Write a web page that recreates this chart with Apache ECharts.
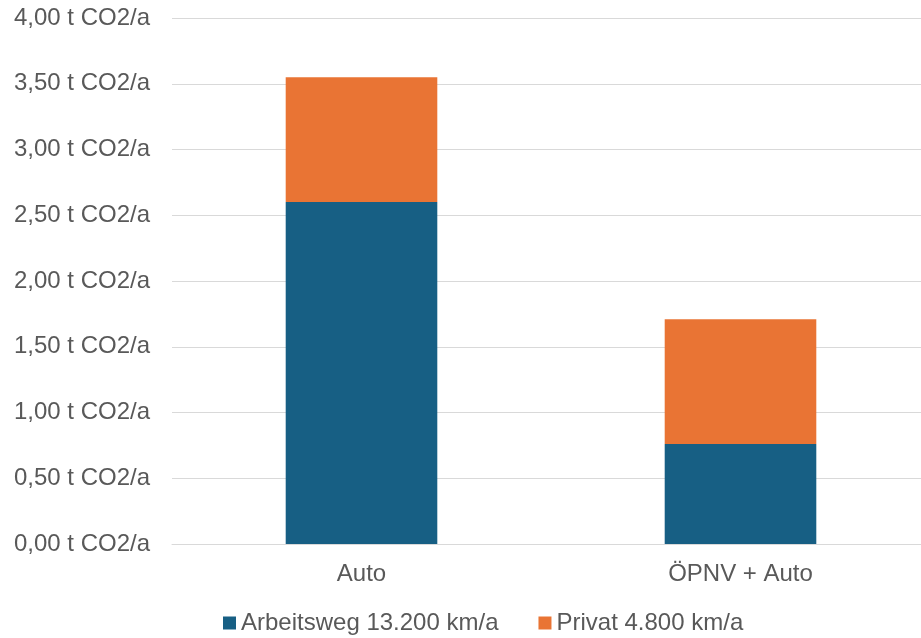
<!DOCTYPE html>
<html>
<head>
<meta charset="utf-8">
<script src="https://cdn.jsdelivr.net/npm/echarts@6/dist/echarts.min.js"></script>
<style>
  html, body { margin: 0; padding: 0; background: #fff; }
  #chart { width: 921px; height: 638px; }
</style>
</head>
<body>
<div id="chart"></div>
<script>
// Kategorien und Werte (t CO2/a)
const categories = ['Auto', 'ÖPNV + Auto'];
const arbeitsweg = [2.60, 0.76];
const privat = [0.95, 0.95];
const seriesNames = ['Arbeitsweg 13.200 km/a', 'Privat 4.800 km/a'];

const chart = echarts.init(document.getElementById('chart'));

const fmt = function (v) {
  return v.toFixed(2).replace('.', ',') + ' t CO2/a';
};

chart.setOption({
  animation: false,
  textStyle: { fontFamily: 'Liberation Sans, Arial, sans-serif' },
  grid: {
    left: 172, right: -9, top: 18, bottom: 94,
    containLabel: false,
    outerBoundsMode: 'none'
  },
  legend: {
    top: 606,
    left: 218,
    itemWidth: 13,
    itemHeight: 13,
    itemGap: 40,
    icon: 'rect',
    textStyle: { fontSize: 24, color: '#595959' },
    data: seriesNames
  },
  xAxis: {
    type: 'category',
    data: categories,
    axisTick: { show: false },
    axisLine: { lineStyle: { color: '#d9d9d9', width: 1 } },
    axisLabel: { fontSize: 24, color: '#595959', margin: 18 }
  },
  yAxis: {
    type: 'value',
    min: 0,
    max: 4,
    interval: 0.5,
    axisLine: { show: false },
    axisTick: { show: false },
    splitLine: { lineStyle: { color: '#d9d9d9', width: 1 } },
    axisLabel: { fontSize: 24, color: '#595959', margin: 22, formatter: fmt }
  },
  series: [
    {
      name: seriesNames[0],
      type: 'bar',
      stack: 'co2',
      barWidth: '40%',
      itemStyle: { color: '#175f84' },
      data: arbeitsweg
    },
    {
      name: seriesNames[1],
      type: 'bar',
      stack: 'co2',
      itemStyle: { color: '#e97434' },
      data: privat
    }
  ]
});
</script>
</body>
</html>
